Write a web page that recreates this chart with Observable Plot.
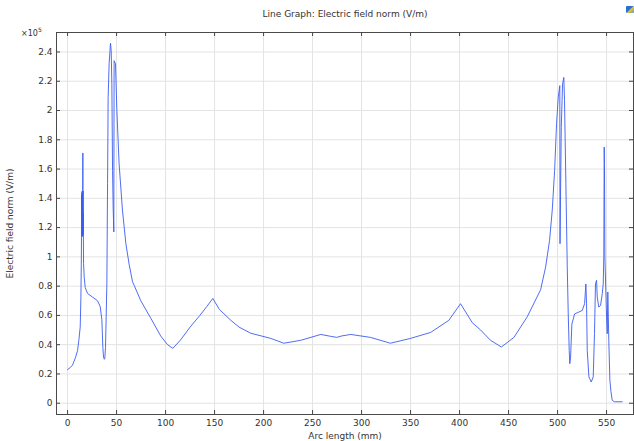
<!DOCTYPE html>
<html><head><meta charset="utf-8">
<script src="https://cdn.jsdelivr.net/npm/d3@7"></script>
<script src="https://cdn.jsdelivr.net/npm/@observablehq/plot@0.6"></script>
<style>
body{margin:0;background:#fff;font-family:"DejaVu Sans",sans-serif;}
#wrap{position:relative;width:634px;height:441px;overflow:hidden;}
#title{position:absolute;left:56px;width:578px;top:9px;text-align:center;font-size:9px;color:#333;}
#exp{position:absolute;left:21px;top:29px;font-size:8px;color:#333;}
#exp sup{font-size:6px;vertical-align:4px;line-height:0;}
#icon{position:absolute;left:626px;top:6px;width:8px;height:7px;border-radius:1px;background:linear-gradient(135deg,#2a6fd6 0%,#2a6fd6 45%,#f2c51d 55%,#4a9be8 100%);}
</style></head><body>
<div id="wrap">
<div id="chart"></div>
<div id="title">Line Graph: Electric field norm (V/m)</div>
<div id="exp">×10<sup>5</sup></div>
<div id="icon"></div>
</div>
<script>
// Arc length (mm)
const arcLength = [0,3,5,8,10.2,11.5,12.9,13.6,14.0,14.2,14.35,14.5,14.65,14.8,14.95,15.1,15.25,15.4,15.5,15.6,15.7,15.8,15.9,16.0,16.3,17,18,20.4,25.5,30.6,33.3,35,36,36.7,37.5,38,38.7,39.4,40.1,40.8,41.4,42.4,43.8,44.5,45.2,45.9,46.5,47.2,47.5,48.9,50.3,52.6,56,59.5,62.8,66.3,68,74.7,85,95,102,107.4,115,125,135,142,148.2,155,166.7,175,187,207.4,220.6,238,258.4,268.6,274.7,280,289,309,329.4,350,370.5,389,401,413,421.5,431.6,442.6,455.5,469,482.7,487.8,491.8,494.6,497,499,500.7,502.3,502.5,503.8,505.1,506.4,507.1,508.5,509.9,510.9,511.9,512.5,513.3,514.6,517.4,521.7,525.2,527.6,528.9,529.6,530.3,532,534.4,536.4,537.7,538.7,539.8,540.5,542.1,543.9,545.6,546.6,547.2,547.6,547.9,548.3,550,550.7,551.3,552.3,553.4,554.5,555.8,558,566];
// Electric field norm (x10^5 V/m)
const fieldNorm = [0.23,0.245,0.26,0.31,0.36,0.43,0.52,0.72,0.95,1.13,1.42,1.15,1.44,1.14,1.45,1.15,1.43,1.14,1.46,1.71,1.15,1.45,1.16,1.30,0.955,0.86,0.79,0.75,0.725,0.70,0.66,0.57,0.38,0.315,0.30,0.305,0.38,0.59,0.82,1.50,2.09,2.32,2.46,2.41,2.18,1.59,1.34,1.17,2.34,2.32,2.0,1.635,1.32,1.09,0.95,0.83,0.805,0.70,0.58,0.46,0.40,0.375,0.43,0.52,0.60,0.66,0.716,0.64,0.566,0.52,0.478,0.443,0.41,0.43,0.47,0.457,0.45,0.46,0.47,0.45,0.41,0.443,0.484,0.566,0.68,0.55,0.50,0.43,0.384,0.45,0.59,0.775,0.93,1.11,1.32,1.59,1.91,2.09,2.17,1.09,1.885,2.18,2.226,2.07,1.5,0.93,0.61,0.36,0.27,0.315,0.54,0.61,0.623,0.634,0.68,0.815,0.68,0.36,0.18,0.145,0.18,0.475,0.815,0.84,0.725,0.657,0.668,0.748,0.815,1.0,1.75,1.63,1.0,0.59,0.475,0.76,0.43,0.157,0.08,0.02,0.01,0.01];
const xTicks = [0,50,100,150,200,250,300,350,400,450,500,550];
const yTicks = [0,0.2,0.4,0.6,0.8,1,1.2,1.4,1.6,1.8,2,2.2,2.4];
const xLabel = "Arc length (mm)";
const yLabel = "Electric field norm (V/m)";

const data = arcLength.map((x, i) => ({x, y: fieldNorm[i]}));
const W = 634, H = 441, mt = 32, mb = 27, ml = 56, mr = 1;
const fh = H - mt - mb, fw = W - ml - mr;
const tickColor = "#444";

const chart = Plot.plot({
  width: W, height: H,
  marginTop: mt, marginBottom: mb, marginLeft: ml, marginRight: mr,
  style: {fontFamily: "DejaVu Sans, sans-serif", fontSize: "9px", color: "#333", background: "#fff"},
  x: {domain: [-11.3, 577.5]},
  y: {domain: [-0.077, 2.533]},
  marks: [
    Plot.gridX(xTicks, {stroke: "#e3e3e3", strokeOpacity: 1}),
    Plot.gridY(yTicks, {stroke: "#e3e3e3", strokeOpacity: 1}),
    Plot.line(data, {x: "x", y: "y", stroke: "#3b5cf2", strokeWidth: 0.9}),
    Plot.tickX(xTicks, {x: d => d, insetTop: fh - 4, stroke: tickColor}),
    Plot.tickX(xTicks, {x: d => d, insetBottom: fh - 4, stroke: tickColor}),
    Plot.tickY(yTicks, {y: d => d, insetRight: fw - 4, stroke: tickColor}),
    Plot.tickY(yTicks, {y: d => d, insetLeft: fw - 4, stroke: tickColor}),
    Plot.axisX(xTicks, {tickSize: 0, tickPadding: 5, tickFormat: d => String(d), label: xLabel, labelAnchor: "center", labelArrow: "none", labelOffset: 24}),
    Plot.axisY(yTicks, {tickSize: 0, tickPadding: 4, tickFormat: d => String(d), label: yLabel, labelAnchor: "center", labelArrow: "none", labelOffset: 50}),
    Plot.frame({stroke: "#4a4a4a"})
  ]
});
document.getElementById("chart").appendChild(chart);
</script>
</body></html>
